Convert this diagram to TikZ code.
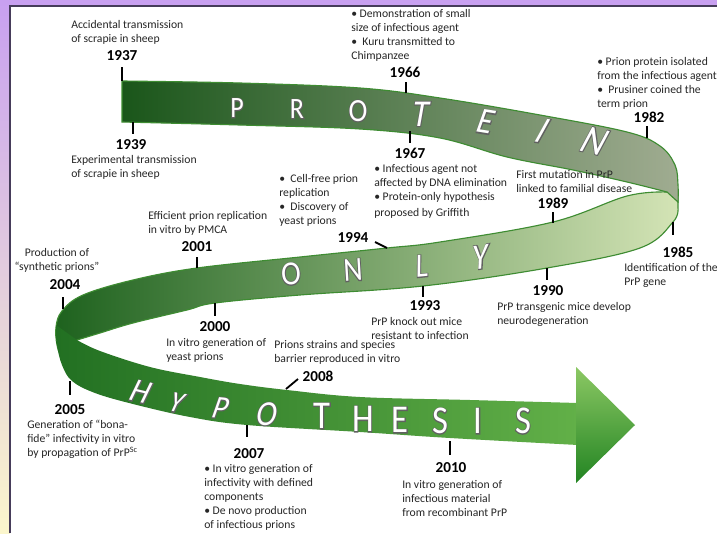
\documentclass[tikz,border=0pt]{standalone}
\usepackage{fontspec}
\setmainfont{Carlito}
\usetikzlibrary{positioning,calc}
\definecolor{framepurple}{RGB}{200,160,240}
\definecolor{framepink}{RGB}{232,212,236}
\definecolor{framecream}{RGB}{251,246,204}
\definecolor{frameedge}{RGB}{70,60,90}
\definecolor{topL}{RGB}{26,86,26}
\definecolor{topM}{RGB}{98,132,72}
\definecolor{topR}{RGB}{160,172,145}
\definecolor{midL}{RGB}{30,98,30}
\definecolor{midM}{RGB}{105,155,80}
\definecolor{midR}{RGB}{212,228,182}
\definecolor{botL}{RGB}{34,112,34}
\definecolor{botM}{RGB}{66,154,54}
\definecolor{botR}{RGB}{98,176,72}
\definecolor{arrT}{RGB}{140,200,100}
\definecolor{arrB}{RGB}{34,132,34}
\definecolor{ribbonedge}{RGB}{62,140,50}
\definecolor{textgray}{RGB}{38,38,38}

% grey rim stroked first, white letter filled on top
\newcommand\rimmed[1]{\special{pdf:literal direct q 0.38 G 1.3 w 1 Tr}\rlap{#1}\special{pdf:literal direct Q}#1}
% name, position, size, transform, letter
\newcommand\ribbonletter[5]{%
  \node[lett,font=\fontsize{#3}{#3}\selectfont,#4] (#1) at (#2) {\rimmed{#5}};}

\begin{document}
\begin{tikzpicture}[x=0.025cm,y=-0.025cm,
    capt/.style={font=\fontsize{8.3}{9.9}\selectfont,align=left,anchor=north west,inner sep=0pt,text=textgray},
    year/.style={font=\fontsize{10.8}{12}\selectfont\bfseries,inner sep=0pt},
    yeartick/.style={line width=1.3pt},
    lett/.style={text=white,inner sep=0pt,xscale=0.88}]
  \useasboundingbox (0,0) rectangle (717,533);
  % frame
  \fill[white] (0,0) rectangle (717,533);
  \shade[top color=framepurple,middle color=framepink,bottom color=framecream] (0,0) rectangle (10,533);
  \fill[framepurple] (0,0) rectangle (717,6);
  \draw[frameedge,line width=0.8pt] (10,533) -- (10,6) -- (717,6);

  % ONLY band (back)
  \path[draw=ribbonedge,line width=0.8pt,left color=midL,middle color=midM,right color=midR]
    plot[smooth,tension=0.6] coordinates {(667,192) (627,196) (553,222) (440,242) (387,248) (300,257) (197,268) (133,280) (83,295) (62,311) (56,327) (57,345) (62,360)}
    -- (77,340)
    -- plot[smooth,tension=0.6] coordinates {(77,340) (100,333) (133,323) (187,310) (215,303) (300,295) (423,286) (547,268) (640,248) (673,222) (678,208)}
    -- (678,195) -- cycle;
  % PROTEIN band
  \path[draw=ribbonedge,line width=0.8pt,left color=topL,middle color=topM,right color=topR]
    (122,122) -- (122,81)
    -- plot[smooth,tension=0.6] coordinates {(122,81) (240,83) (360,88) (440,98) (540,115) (627,132) (660,146) (675,165) (678,185) (678,202)}
    -- plot[smooth,tension=0.6] coordinates {(667,192) (627,182) (573,170) (507,157) (440,138) (360,129) (240,125) (122,122)}
    -- cycle;
  % HYPOTHESIS band and arrow head
  \path[left color=botL,middle color=botM,right color=botR]
    plot[smooth,tension=0.6] coordinates {(56,325) (57,345) (62,365) (72,381) (95,393) (133,404) (190,417) (247,425) (360,432) (450,438) (578,445)}
    -- (578,403)
    -- plot[smooth,tension=0.6] coordinates {(578,403) (470,400) (360,397) (287,390) (240,384) (200,377) (150,367) (100,351) (77,340)}
    -- cycle;
  \path[top color=arrT,bottom color=arrB] (576,367) -- (635,425) -- (576,483) -- cycle;

  \ribbonletter{lP}{237,108}{21}{}{P}
  \ribbonletter{lR}{297,109}{21}{}{R}
  \ribbonletter{lO}{358,111}{23}{}{O}
  \ribbonletter{lT}{421,114}{27}{xslant=0.2}{T}
  \ribbonletter{lE}{486,122}{26}{rotate=-8,xslant=0.25}{E}
  \ribbonletter{lI}{543,131}{27}{rotate=-8,xslant=0.45}{I}
  \ribbonletter{lN}{595,141}{29}{rotate=-12,xslant=0.35}{N}
  \ribbonletter{mO}{291,274}{24}{rotate=4}{O}
  \ribbonletter{mN}{353,270}{24}{rotate=4}{N}
  \ribbonletter{mL}{422,266}{24}{rotate=5,xslant=0.1}{L}
  \ribbonletter{mY}{481,257}{26}{rotate=8,xslant=0.2}{Y}
  \ribbonletter{hH}{141,392}{24}{rotate=-12,xslant=0.3}{H}
  \ribbonletter{hY}{177,403}{21}{rotate=-8,xslant=0.35}{Y}
  \ribbonletter{hP}{221,408}{23}{rotate=-5,xslant=0.3}{P}
  \ribbonletter{hO}{267,414}{25}{xslant=0.2}{O}
  \ribbonletter{hT}{322,416}{28}{}{T}
  \ribbonletter{hHb}{363,419}{28}{}{H}
  \ribbonletter{hE}{400,420}{28}{}{E}
  \ribbonletter{hS}{440,421}{28}{}{S}
  \ribbonletter{hI}{478,421}{28}{}{I}
  \ribbonletter{hSb}{523,421}{28}{}{S}

  % ticks: ribbon point r.., free end k..
  \coordinate (r1937) at (122,81);  \coordinate (k1937) at (122,67);
  \coordinate (r1939) at (133,122); \coordinate (k1939) at (133,134);
  \coordinate (r1966) at (406,93);  \coordinate (k1966) at (406,82);
  \coordinate (r1967) at (410,131); \coordinate (k1967) at (410,143);
  \coordinate (r1982) at (647,138); \coordinate (k1982) at (647,126);
  \coordinate (r1985) at (673,222); \coordinate (k1985) at (673,235);
  \coordinate (r1989) at (553,223); \coordinate (k1989) at (553,212);
  \coordinate (r1990) at (547,268); \coordinate (k1990) at (547,280);
  \coordinate (r1993) at (423,286); \coordinate (k1993) at (423,297);
  \coordinate (r1994) at (387,248); \coordinate (k1994) at (375,242);
  \coordinate (r2001) at (197,268); \coordinate (k2001) at (197,257);
  \coordinate (r2000) at (215,303); \coordinate (k2000) at (215,316);
  \coordinate (r2004) at (63,309);  \coordinate (k2004) at (63,297);
  \coordinate (r2005) at (70,381);  \coordinate (k2005) at (70,395);
  \coordinate (r2007) at (247,425); \coordinate (k2007) at (247,437);
  \coordinate (r2008) at (286,389); \coordinate (k2008) at (298,379);
  \coordinate (r2010) at (450,441); \coordinate (k2010) at (450,455);
  \foreach \yr in {1937,1939,1966,1967,1982,1985,1989,1990,1993,1994,2001,2000,2004,2005,2007,2008,2010}
    \draw[yeartick] (r\yr) -- (k\yr);

  % years
  \node[year] (y1937) at (122,56) {1937};
  \node[year] (y1939) at (131,145) {1939};
  \node[year] (y1966) at (405,72) {1966};
  \node[year] (y1967) at (410,153) {1967};
  \node[year] (y1982) at (649,117) {1982};
  \node[year] (y1985) at (678,252) {1985};
  \node[year] (y1989) at (553,203) {1989};
  \node[year] (y1990) at (548,291) {1990};
  \node[year] (y1993) at (425,306) {1993};
  \node[year] (y1994) at (353,238) {1994};
  \node[year] (y2001) at (197,247) {2001};
  \node[year] (y2000) at (215,327) {2000};
  \node[year] (y2004) at (65,285) {2004};
  \node[year] (y2005) at (70,410) {2005};
  \node[year] (y2007) at (249,454) {2007};
  \node[year] (y2008) at (318,376) {2008};
  \node[year] (y2010) at (451,468) {2010};

  % captions
  \node[capt] (c1937) at (71,20) {Accidental transmission\\of scrapie in sheep};
  \node[capt] (c1939) at (71,155) {Experimental transmission\\of scrapie in sheep};
  \node[capt] (c1966) at (351,9) {• Demonstration of small\\size of infectious agent\\•\ \ Kuru transmitted to\\Chimpanzee};
  \node[capt] (c1967) at (374,164) {• Infectious agent not\\affected by DNA elimination\\• Protein-only hypothesis\\[2pt]proposed by Griffith};
  \node[capt] (c1982) at (597,57) {• Prion protein isolated\\from the infectious agent\\•\ \ Prusiner coined the\\term prion};
  \node[capt] (c1985) at (624,263) {Identification of the\\PrP gene};
  \node[capt] (c1989) at (516,170) {First mutation in PrP\\linked to familial disease};
  \node[capt] (c1990) at (497,302) {PrP transgenic mice develop\\neurodegeneration};
  \node[capt] (c1993) at (371,317) {PrP knock out mice\\resistant to infection};
  \node[capt] (c1994) at (279,174) {•\ \ Cell-free prion\\replication\\•\ \ Discovery of\\yeast prions};
  \node[capt] (c2001) at (148,211) {Efficient prion replication\\in vitro by PMCA};
  \node[capt] (c2000) at (166,338) {In vitro generation of\\yeast prions};
  \node[capt,align=center,anchor=north] (c2004) at (57,248) {Production of\\“synthetic prions”};
  \node[capt] (c2005) at (27,420) {Generation of “bona-\\fide” infectivity in vitro\\by propagation of PrP\textsuperscript{Sc}};
  \node[capt] (c2007) at (204,464) {• In vitro generation of\\infectivity with defined\\components\\• De novo production\\of infectious prions};
  \node[capt] (c2008) at (274,340) {Prions strains and species\\barrier reproduced in vitro};
  \node[capt] (c2010) at (402,480) {In vitro generation of\\infectious material\\from recombinant PrP};
\end{tikzpicture}
\end{document}
